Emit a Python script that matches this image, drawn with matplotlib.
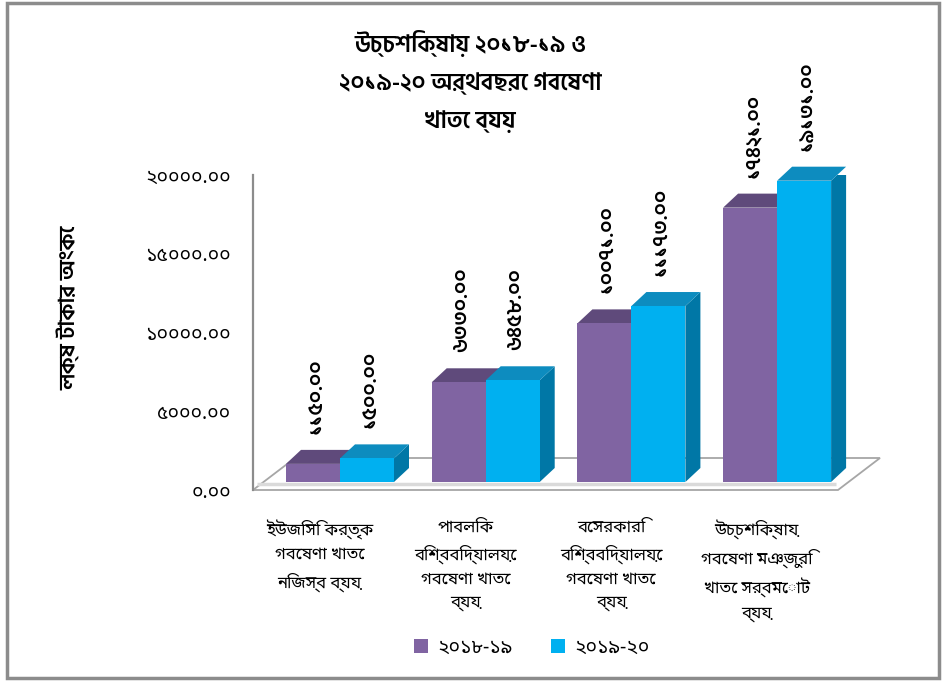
import matplotlib
matplotlib.use('Agg')
import matplotlib.pyplot as plt
from matplotlib.patches import Polygon, Rectangle
import numpy as np

plt.rcParams['font.family'] = ['Noto Sans Bengali', 'DejaVu Sans']
BOLD = ['Hind Siliguri', 'Noto Sans Bengali', 'DejaVu Sans']

# data
categories = [
    'ইউজিসি কর্তৃক\nগবেষণা খাতে\nনিজস্ব ব্যয়',
    'পাবলিক\nবিশ্ববিদ্যালয়ে\nগবেষণা খাতে\nব্যয়',
    'বেসরকারি\nবিশ্ববিদ্যালয়ে\nগবেষণা খাতে\nব্যয়',
    'উচ্চশিক্ষায়\nগবেষণা মঞ্জুরি\nখাতে সর্বমোট\nব্যয়',
]
series_names = ['২০১৮-১৯', '২০১৯-২০']
values_2018 = [1150.00, 6330.00, 10071.00, 17421.00]
values_2019 = [1500.00, 6458.00, 11173.00, 19131.00]
y_ticks = [0, 5000, 10000, 15000, 20000]

title = 'উচ্চশিক্ষায় ২০১৮-১৯ ও\n২০১৯-২০ অর্থবছরে গবেষণা\nখাতে ব্যয়'
y_label = 'লক্ষ টাকার অংকে'

BN_DIGITS = str.maketrans('0123456789', '০১২৩৪৫৬৭৮৯')


def bn(v):
    return ('%.2f' % v).translate(BN_DIGITS)


W, H = 942, 681
fig = plt.figure(figsize=(W / 100, H / 100), dpi=100)

# axes box in pixels (from top-left)
ax_l, ax_r, ax_t, ax_b = 253, 880, 175, 490
ax = fig.add_axes([ax_l / W, 1 - ax_b / H, (ax_r - ax_l) / W, (ax_b - ax_t) / H])
ax.set_ylim(0, 20000)
x0_px, step_px = 340, 145.7
ax.set_xlim((ax_l - x0_px) / step_px, (ax_r - x0_px) / step_px)

ux = 1 / step_px            # x data units per pixel
uy = 20000 / (ax_b - ax_t)  # y data units per pixel

# floor slab
fl_dx, fl_dy = 42 * ux, 32 * uy
fx0, fx1 = ax.get_xlim()[0], (838 - x0_px) / step_px
floor = Polygon([(fx0, 0), (fx1, 0), (fx1 + fl_dx, fl_dy), (fx0 + fl_dx, fl_dy)],
                closed=True, facecolor='white', edgecolor='#a6a6a6', lw=1.3,
                clip_on=False, zorder=1)
ax.add_patch(floor)
ax.plot([fx0 + 4 * ux, fx1 - 2 * ux], [6 * uy, 6 * uy], color='#dadada', lw=2.5,
        solid_capstyle='butt', clip_on=False, zorder=1)

# 3d-ish bars
x = np.arange(len(categories))
w = 54 * ux
base = 8 * uy
ddx, ddy = 15 * ux, 14 * uy
series = [
    (values_2018, -1, '#8064a2', '#5f4a7b', '#4e3c66'),
    (values_2019, 0, '#00b0f0', '#0d8cbf', '#0077a6'),
]
handles = []
for vals, off, c_front, c_top, c_side in series:
    lefts = x + off * w
    tops = base + np.array(vals)
    for xl, top in zip(lefts, tops):
        xr = xl + w
        ax.add_patch(Polygon([(xr, base), (xr + ddx, base + ddy), (xr + ddx, top + ddy), (xr, top)],
                             closed=True, facecolor=c_side, edgecolor='none', zorder=2))
        ax.add_patch(Polygon([(xl, top), (xr, top), (xr + ddx, top + ddy), (xl + ddx, top + ddy)],
                             closed=True, facecolor=c_top, edgecolor='none', zorder=2,
                             clip_on=False))
    b = ax.bar(lefts, vals, width=w, bottom=base, align='edge', color=c_front, zorder=3)
    handles.append(b)
    for xl, top, v in zip(lefts, tops, vals):
        ax.text(xl + w / 2 + 3 * ux, top + 30 * uy, bn(v), rotation=90, ha='center',
                va='bottom', fontsize=15, family=BOLD, fontweight='semibold', clip_on=False)

# axes styling
for s in ['top', 'right', 'bottom']:
    ax.spines[s].set_visible(False)
ax.spines['left'].set_color('#8c8c8c')
ax.spines['left'].set_linewidth(1.6)
ax.set_yticks(y_ticks)
ax.set_yticklabels([bn(t) for t in y_ticks], fontsize=14)
ax.tick_params(axis='y', length=0, pad=16)
ax.set_xticks([])

# category labels
for xi, cat in zip(x, categories):
    ax.text(xi - 0.14, -1900, cat, ha='center', va='top', fontsize=12,
            linespacing=1.6, clip_on=False)

fig.text(470 / W, 1 - 30 / H, title, ha='center', va='top', fontsize=17,
         family=BOLD, fontweight='semibold', linespacing=1.85)
fig.text(68 / W, 1 - 308 / H, y_label, ha='center', va='center', rotation=90,
         fontsize=16, family=BOLD, fontweight='semibold')

fig.legend(handles, series_names, loc='center', bbox_to_anchor=(532 / W, 1 - 648 / H),
           ncol=2, frameon=False, fontsize=14, handlelength=0.7, handleheight=0.7,
           columnspacing=2.0, handletextpad=0.5)

# outer frame
fig.patches.append(Rectangle((7 / W, 3 / H), 932 / W, 675 / H, transform=fig.transFigure,
                             fill=False, edgecolor='#8c8c8c', lw=2.5))

fig.savefig('out.png', dpi=100)
